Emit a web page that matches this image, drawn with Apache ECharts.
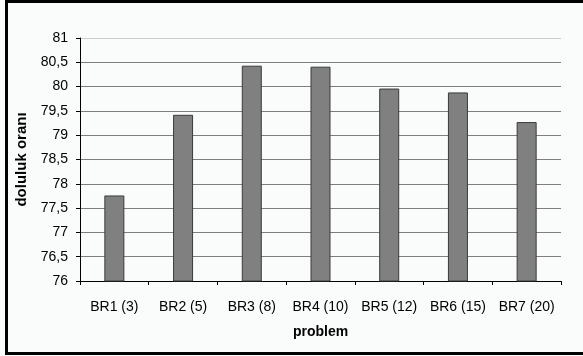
<!DOCTYPE html>
<html>
<head>
<meta charset="utf-8">
<script src="https://cdn.jsdelivr.net/npm/echarts@6/dist/echarts.min.js"></script>
<style>
  html, body { margin: 0; padding: 0; background: #fafbfb; overflow: hidden; }
  #chart { width: 583px; height: 356px; }
</style>
</head>
<body>
<div id="chart"></div>
<script>
// Fill ratio per benchmark problem
const categories = ['BR1 (3)', 'BR2 (5)', 'BR3 (8)', 'BR4 (10)', 'BR5 (12)', 'BR6 (15)', 'BR7 (20)'];
const values = [77.76, 79.42, 80.43, 80.41, 79.96, 79.88, 79.27];
const yMin = 76;
const yMax = 81;
const yStep = 0.5;

const chart = echarts.init(document.getElementById('chart'), null, { renderer: 'canvas' });

const font = '"Liberation Sans", Arial, sans-serif';

// grid lines: all mid gray, the top one lighter
const lineCount = Math.round((yMax - yMin) / yStep) + 1;
const gridColors = [];
for (let i = 0; i < lineCount; i++) gridColors.push(i === lineCount - 1 ? '#cfcfcf' : '#7f7f7f');

chart.setOption({
  backgroundColor: '#fafbfb',
  animation: false,
  graphic: [
    {
      // frame open on the right: top, left and bottom edges
      type: 'polyline',
      shape: { points: [[583, 1.5], [6.5, 1.5], [6.5, 353.5], [583, 353.5]] },
      style: { fill: null, stroke: '#000', lineWidth: 3 },
      silent: true
    }
  ],
  grid: { left: 80, right: 22, top: 38, bottom: 75, containLabel: false },
  xAxis: {
    type: 'category',
    data: categories,
    name: 'problem',
    nameLocation: 'middle',
    nameGap: 44,
    nameTextStyle: { fontFamily: font, fontSize: 14, fontWeight: 'bold', color: '#000' },
    axisLine: { lineStyle: { color: '#000', width: 1 } },
    axisTick: { show: true, alignWithLabel: false, length: 4, lineStyle: { color: '#000' } },
    axisLabel: { fontFamily: font, fontSize: 14, color: '#000', margin: 19, interval: 0 }
  },
  yAxis: {
    type: 'value',
    min: yMin,
    max: yMax,
    interval: yStep,
    name: 'doluluk oranı',
    nameLocation: 'middle',
    nameGap: 47,
    nameTextStyle: { fontFamily: font, fontSize: 15, fontWeight: 'bold', color: '#000' },
    axisLine: { show: true, lineStyle: { color: '#000', width: 1 } },
    axisTick: { show: true, inside: false, length: 4, lineStyle: { color: '#000' } },
    axisLabel: {
      fontFamily: font, fontSize: 14, color: '#000', margin: 12,
      formatter: v => String(v).replace('.', ',')
    },
    splitLine: { show: true, lineStyle: { color: gridColors, width: 1 } }
  },
  series: [{
    type: 'bar',
    data: values,
    barWidth: 20,
    itemStyle: { color: '#808080', borderColor: '#3a3a3a', borderWidth: 1 }
  }]
});
</script>
</body>
</html>
